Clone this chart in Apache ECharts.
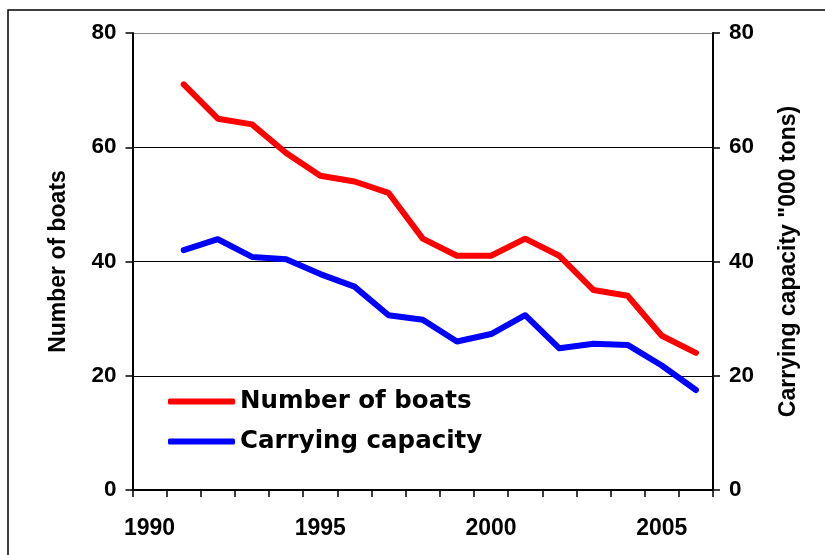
<!DOCTYPE html>
<html>
<head>
<meta charset="utf-8">
<script src="https://cdn.jsdelivr.net/npm/echarts@6/dist/echarts.min.js"></script>
<style>
  html, body { margin: 0; padding: 0; background: #fff; }
  #chart { width: 825px; height: 555px; }
</style>
</head>
<body>
<div id="chart"></div>
<script>
// Years on the category axis
const years = ['1990','1991','1992','1993','1994','1995','1996','1997','1998',
               '1999','2000','2001','2002','2003','2004','2005','2006'];
// Fleet size (number of boats)
const boats = [null, 71, 65, 64, 59, 55, 54, 52, 44, 41, 41, 44, 41, 35, 34, 27, 24];
// Carrying capacity, thousand tons
const capacity = [null, 42.0, 43.9, 40.8, 40.4, 37.8, 35.6, 30.6, 29.8, 26.0, 27.3, 30.6, 24.8, 25.6, 25.4, 21.8, 17.5];
// Value axis ticks
const yTicks = [0, 20, 40, 60, 80];

const chart = echarts.init(document.getElementById('chart'), null, { renderer: 'canvas' });

const axisFont = 'Liberation Sans, Arial, sans-serif';

function valueAxis(position, name, nameGap) {
  return {
    type: 'value',
    position: position,
    min: yTicks[0],
    max: yTicks[yTicks.length - 1],
    interval: yTicks[1] - yTicks[0],
    name: name,
    nameLocation: 'middle',
    nameRotate: 90,
    nameGap: nameGap,
    nameTextStyle: { fontFamily: axisFont, fontWeight: 'bold', fontSize: 23, color: '#000' },
    axisLine: { show: true, lineStyle: { color: '#000', width: 2 } },
    axisTick: { show: true, inside: false, length: 7, lineStyle: { color: '#000', width: 1.5 } },
    axisLabel: { fontFamily: axisFont, fontWeight: 'bold', fontSize: 22.5, color: '#000', margin: 16 },
    splitLine: {
      show: position === 'left',
      lineStyle: { color: ['#000', '#000', '#000', '#000', '#888'], width: 1.2 }
    }
  };
}

const option = {
  animation: false,
  backgroundColor: '#fff',
  grid: { left: 132.5, right: 112, top: 33, bottom: 65, containLabel: false },
  graphic: [{
    type: 'rect',
    shape: { x: 8, y: 10, width: 900, height: 700 },
    style: { fill: 'none', stroke: '#000', lineWidth: 1.5 },
    silent: true,
    z: -1
  }],
  legend: {
    orient: 'vertical',
    left: 163,
    top: 384,
    itemWidth: 67,
    itemHeight: 6,
    itemGap: 15,
    icon: 'roundRect',
    textStyle: { fontFamily: 'DejaVu Sans, sans-serif', fontWeight: 'bold', fontSize: 24.5, color: '#000' },
    data: ['Number of boats', 'Carrying capacity']
  },
  xAxis: {
    type: 'category',
    data: years,
    boundaryGap: true,
    axisLine: { show: true, lineStyle: { color: '#000', width: 2 } },
    axisTick: { show: true, interval: 0, length: 7, lineStyle: { color: '#000', width: 1.5 } },
    axisLabel: { interval: 4, fontFamily: axisFont, fontWeight: 'bold', fontSize: 23, color: '#000', margin: 27 },
    splitLine: { show: false }
  },
  yAxis: [
    valueAxis('left', 'Number of boats', 62),
    valueAxis('right', 'Carrying capacity "000 tons)', 64)
  ],
  series: [
    {
      name: 'Number of boats',
      type: 'line',
      data: boats,
      yAxisIndex: 0,
      symbol: 'none',
      color: '#ff0000',
      lineStyle: { color: '#ff0000', width: 6, cap: 'round', join: 'round' },
      z: 3
    },
    {
      name: 'Carrying capacity',
      type: 'line',
      data: capacity,
      yAxisIndex: 1,
      symbol: 'none',
      color: '#0000ff',
      lineStyle: { color: '#0000ff', width: 6, cap: 'round', join: 'round' },
      z: 3
    }
  ]
};

chart.setOption(option);
</script>
</body>
</html>
